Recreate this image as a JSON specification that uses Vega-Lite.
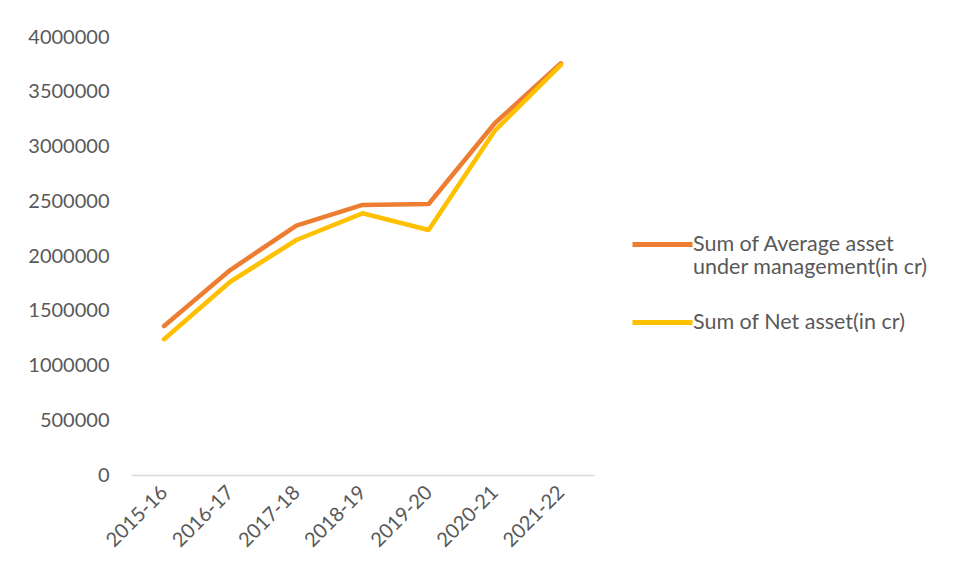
{
  "$schema": "https://vega.github.io/schema/vega-lite/v6.json",
  "width": 463,
  "height": 438,
  "autosize": "none",
  "padding": {"left": 131, "top": 37, "right": 360, "bottom": 105},
  "background": "white",
  "config": {
    "view": {"stroke": null},
    "font": "Lato",
    "axis": {"labelFont": "Lato", "labelColor": "#595959", "labelFontSize": 20}
  },
  "data": {
    "values": [
      {"year": "2015-16", "series": "Sum of Average asset under management(in cr)", "value": 1361000},
      {"year": "2016-17", "series": "Sum of Average asset under management(in cr)", "value": 1872000},
      {"year": "2017-18", "series": "Sum of Average asset under management(in cr)", "value": 2277000},
      {"year": "2018-19", "series": "Sum of Average asset under management(in cr)", "value": 2466000},
      {"year": "2019-20", "series": "Sum of Average asset under management(in cr)", "value": 2475000},
      {"year": "2020-21", "series": "Sum of Average asset under management(in cr)", "value": 3212000},
      {"year": "2021-22", "series": "Sum of Average asset under management(in cr)", "value": 3760000},
      {"year": "2015-16", "series": "Sum of Net asset(in cr)", "value": 1240000},
      {"year": "2016-17", "series": "Sum of Net asset(in cr)", "value": 1765000},
      {"year": "2017-18", "series": "Sum of Net asset(in cr)", "value": 2146000},
      {"year": "2018-19", "series": "Sum of Net asset(in cr)", "value": 2390000},
      {"year": "2019-20", "series": "Sum of Net asset(in cr)", "value": 2237000},
      {"year": "2020-21", "series": "Sum of Net asset(in cr)", "value": 3144000},
      {"year": "2021-22", "series": "Sum of Net asset(in cr)", "value": 3745000}
    ]
  },
  "mark": {"type": "line", "strokeWidth": 4.5, "strokeCap": "round", "strokeJoin": "round"},
  "encoding": {
    "x": {
      "field": "year",
      "type": "ordinal",
      "scale": {"type": "point", "padding": 0.5},
      "axis": {
        "title": null,
        "labelAngle": -45,
        "labelAlign": "right",
        "labelBaseline": "middle",
        "ticks": false,
        "labelPadding": 14,
        "domainColor": "#d9d9d9",
        "domainWidth": 1.5,
        "grid": false
      }
    },
    "y": {
      "field": "value",
      "type": "quantitative",
      "scale": {"domain": [0, 4000000], "nice": false},
      "axis": {
        "title": null,
        "values": [0, 500000, 1000000, 1500000, 2000000, 2500000, 3000000, 3500000, 4000000],
        "format": "d",
        "ticks": false,
        "domain": false,
        "grid": false,
        "labelPadding": 22
      }
    },
    "color": {
      "field": "series",
      "type": "nominal",
      "scale": {
        "domain": ["Sum of Average asset under management(in cr)", "Sum of Net asset(in cr)"],
        "range": ["#ED7D31", "#FFC000"]
      },
      "legend": {
        "title": null,
        "orient": "none",
        "legendX": 499,
        "legendY": 175,
        "symbolType": "stroke",
        "symbolSize": 3600,
        "symbolStrokeWidth": 5,
        "labelFont": "Lato",
        "labelFontSize": 21.5,
        "labelLineHeight": 29,
        "labelColor": "#595959",
        "labelLimit": 400,
        "labelOffset": -2,
        "rowPadding": 11,
        "labelExpr": "datum.label == 'Sum of Average asset under management(in cr)' ? ['Sum of Average asset', 'under management(in cr)'] : datum.label"
      }
    }
  }
}
